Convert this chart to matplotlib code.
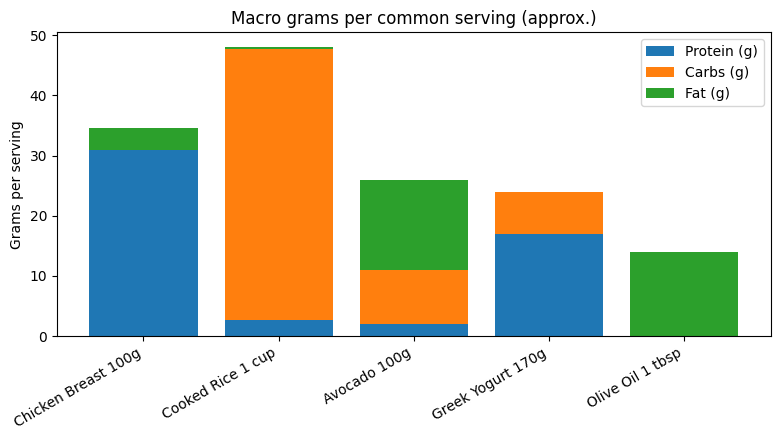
import matplotlib
matplotlib.use("Agg")
import matplotlib.pyplot as plt
import numpy as np

foods = ["Chicken Breast 100g", "Cooked Rice 1 cup", "Avocado 100g",
         "Greek Yogurt 170g", "Olive Oil 1 tbsp"]
protein = [31, 2.7, 2, 17, 0]
carbs = [0, 45, 9, 7, 0]
fat = [3.6, 0.4, 15, 0, 14]

fig, ax = plt.subplots(figsize=(7.8, 4.4), dpi=100)
x = np.arange(len(foods))
p = np.array(protein)
c = np.array(carbs)
ax.bar(x, protein, label="Protein (g)")
ax.bar(x, carbs, bottom=p, label="Carbs (g)")
ax.bar(x, fat, bottom=p + c, label="Fat (g)")
ax.set_xticks(x)
ax.set_xticklabels(foods, rotation=30, ha="right")
ax.set_ylabel("Grams per serving")
ax.set_title("Macro grams per common serving (approx.)")
ax.legend()
plt.subplots_adjust(left=0.073, right=0.988, top=0.927, bottom=0.236)
plt.savefig("out.png")
